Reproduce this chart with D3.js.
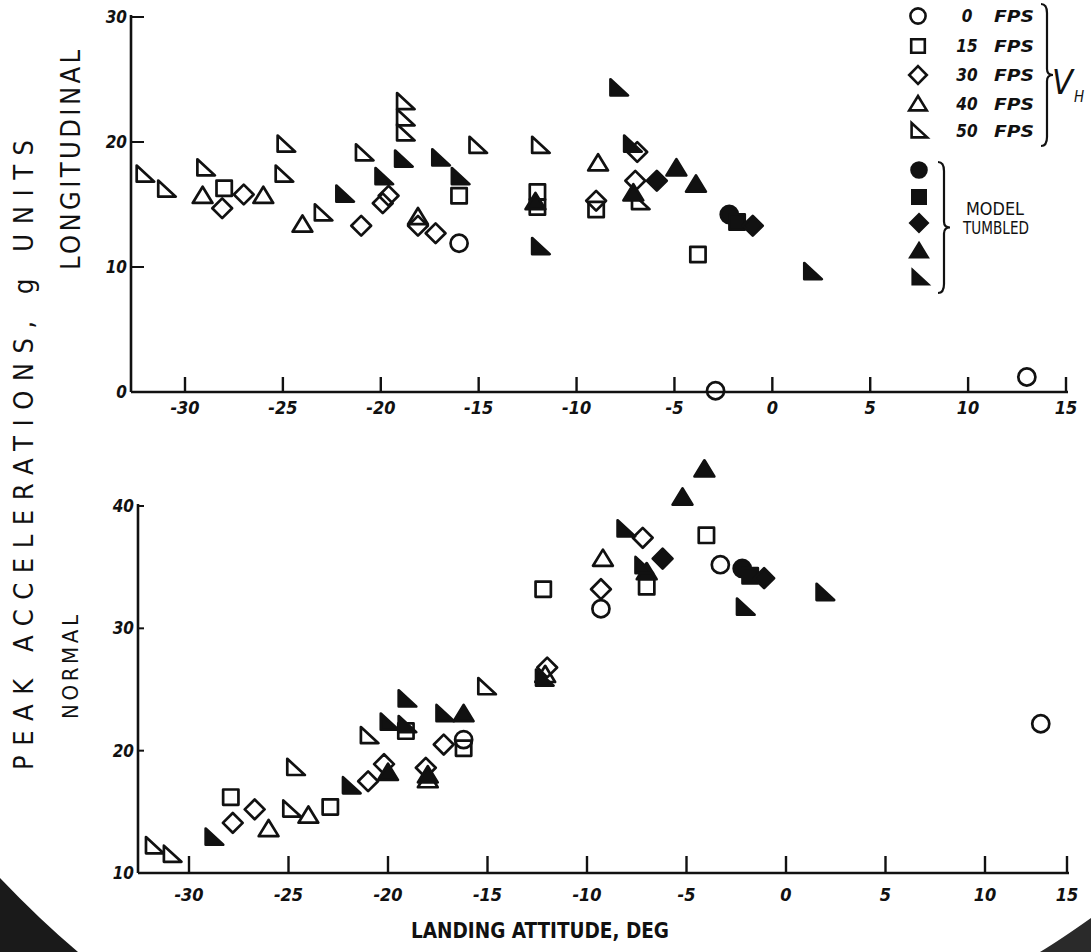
<!DOCTYPE html>
<html>
<head>
<meta charset="utf-8">
<script src="https://cdn.jsdelivr.net/npm/d3@7"></script>
<style>
  html, body { margin: 0; padding: 0; background: #fff; }
  svg { display: block; }
  text { font-family: "DejaVu Sans Condensed", "DejaVu Sans", sans-serif; fill: #111; }
</style>
</head>
<body>
<svg id="chart" width="1091" height="952"></svg>
<script>
// ---------------- DATA ----------------
// x ticks (landing attitude, deg)
const xTickValues = [-30, -25, -20, -15, -10, -5, 0, 5, 10, 15];
const yTicksLong = [0, 10, 20, 30];
const yTicksNormal = [10, 20, 30, 40];

// legend
const speedLabels = ["0", "15", "30", "40", "50"];
const symbolKinds = ["circle", "square", "diamond", "triangle", "rtriangle"];

// ---- Longitudinal peak acceleration [attitude, g] ----
const long0fps  = [[-16.0, 11.9], [-2.9, 0.1], [13.0, 1.2]];
const long15fps = [[-28.0, 16.3], [-16.0, 15.7], [-12.0, 16.0], [-12.0, 14.8], [-9.0, 14.6], [-3.8, 11.0]];
const long30fps = [[-28.1, 14.7], [-27.0, 15.8], [-21.0, 13.3], [-19.9, 15.1], [-19.6, 15.7], [-18.1, 13.3],
                   [-17.2, 12.7], [-9.0, 15.3], [-7.0, 16.9], [-6.9, 19.2]];
const long40fps = [[-29.1, 15.7], [-26.0, 15.7], [-24.0, 13.4], [-18.1, 14.0], [-8.9, 18.3]];
const long50fps = [[-32.1, 17.4], [-31.0, 16.2], [-29.0, 17.9], [-24.9, 19.8], [-25.0, 17.4], [-23.0, 14.3],
                   [-20.9, 19.1], [-18.8, 23.2], [-18.8, 21.9], [-18.8, 20.7], [-15.1, 19.7], [-11.9, 19.7], [-6.8, 15.2]];
const longTumbled0  = [[-2.2, 14.2]];
const longTumbled15 = [[-1.8, 13.6]];
const longTumbled30 = [[-5.9, 16.9], [-1.0, 13.3]];
const longTumbled40 = [[-4.9, 17.9], [-3.9, 16.6], [-7.1, 15.9], [-12.1, 15.2]];
const longTumbled50 = [[-21.9, 15.8], [-19.9, 17.2], [-18.9, 18.6], [-17.0, 18.7], [-16.0, 17.2], [-11.9, 11.6],
                       [-7.9, 24.3], [-7.2, 19.8], [2.0, 9.6]];

// ---- Normal peak acceleration [attitude, g] ----
const norm0fps  = [[-3.3, 35.2], [13.4, 22.2], [-16.2, 20.9], [-9.3, 31.6]];
const norm15fps = [[-27.9, 16.2], [-22.9, 15.4], [-19.1, 21.6], [-16.2, 20.2], [-12.2, 33.2], [-4.0, 37.6], [-7.0, 33.4]];
const norm30fps = [[-27.8, 14.1], [-26.7, 15.2], [-21.0, 17.5], [-20.2, 18.9], [-18.1, 18.6], [-17.2, 20.5],
                   [-12.0, 26.8], [-7.2, 37.4], [-9.3, 33.2]];
const norm40fps = [[-26.0, 13.6], [-24.0, 14.7], [-18.0, 17.6], [-12.1, 26.2], [-9.2, 35.7]];
const norm50fps = [[-31.8, 12.2], [-30.9, 11.5], [-24.7, 18.6], [-24.9, 15.2], [-21.0, 21.2], [-15.1, 25.2]];
const normTumbled0  = [[-2.2, 34.9]];
const normTumbled15 = [[-1.8, 34.3]];
const normTumbled30 = [[-6.2, 35.7], [-1.1, 34.1]];
const normTumbled40 = [[-20.0, 18.2], [-16.2, 23.0], [-18.0, 18.0], [-5.2, 40.7], [-4.1, 43.0], [-7.0, 34.6]];
const normTumbled50 = [[-28.8, 12.9], [-21.9, 17.1], [-20.0, 22.3], [-19.1, 24.2], [-19.1, 22.1], [-17.2, 23.0],
                       [-12.2, 25.9], [-8.1, 38.1], [-7.2, 35.1], [-2.1, 31.7], [1.9, 32.9]];

// ---------------- DRAWING ----------------
const svg = d3.select("#chart");
const INK = "#111";

// symbol path generator (centered at 0,0)
function symbolPath(kind, s) {
  const h = s / 2;
  const p = d3.path();
  if (kind === "circle") {
    p.arc(0, 0, h * 0.95, 0, 2 * Math.PI);
  } else if (kind === "square") {
    p.rect(-h * 0.85, -h * 0.85, h * 1.7, h * 1.7);
  } else if (kind === "diamond") {
    p.moveTo(0, -h * 1.1); p.lineTo(h * 1.1, 0); p.lineTo(0, h * 1.1); p.lineTo(-h * 1.1, 0); p.closePath();
  } else if (kind === "triangle") {
    p.moveTo(0, -h); p.lineTo(h * 1.1, h * 0.8); p.lineTo(-h * 1.1, h * 0.8); p.closePath();
  } else { // right triangle, vertical left edge, point at lower right
    p.moveTo(-h * 0.8, -h); p.lineTo(h * 1.15, h * 0.8); p.lineTo(-h * 0.8, h * 0.8); p.closePath();
  }
  return p.toString();
}

function panel(cfg) {
  const g = svg.append("g");
  const x = cfg.x, y = cfg.y;
  const [x0, x1] = [cfg.axisLeft, cfg.axisRight];
  const yb = y(cfg.yDomain[0]), yt = y(cfg.yDomain[1]);

  g.append("line").attr("x1", x0).attr("x2", x1).attr("y1", yb).attr("y2", yb)
    .attr("stroke", INK).attr("stroke-width", 2.6);
  g.append("line").attr("x1", x0).attr("x2", x0).attr("y1", yb).attr("y2", yt - 2)
    .attr("stroke", INK).attr("stroke-width", 2.6);

  const xt = g.append("g").selectAll("g").data(xTickValues).join("g")
    .attr("transform", d => `translate(${x(d)},${yb})`);
  xt.append("line").attr("y1", 0).attr("y2", -cfg.xTickLen).attr("stroke", INK).attr("stroke-width", 2.4);
  xt.append("text").attr("y", cfg.xLabelDy).attr("text-anchor", "middle")
    .attr("font-size", 18).attr("font-weight", "bold").attr("font-style", "italic")
    .text(d => d === 0 ? "0" : (d < 0 ? "-" + Math.abs(d) : d));

  const yt2 = g.append("g").selectAll("g").data(cfg.yTicks).join("g")
    .attr("transform", d => `translate(${x0},${y(d)})`);
  yt2.filter(d => d !== cfg.yDomain[0]).append("line").attr("x1", 0).attr("x2", cfg.yTickLen)
    .attr("stroke", INK).attr("stroke-width", 2);
  yt2.append("text").attr("x", -4).attr("dy", "0.35em").attr("text-anchor", "end")
    .attr("font-size", 17).attr("font-weight", "bold").attr("font-style", "italic")
    .text(d => d);

  const groups = [
    { data: cfg.open[0], kind: "circle", filled: false },
    { data: cfg.open[1], kind: "square", filled: false },
    { data: cfg.open[2], kind: "diamond", filled: false },
    { data: cfg.open[3], kind: "triangle", filled: false },
    { data: cfg.open[4], kind: "rtriangle", filled: false },
    { data: cfg.filled[0], kind: "circle", filled: true },
    { data: cfg.filled[1], kind: "square", filled: true },
    { data: cfg.filled[2], kind: "diamond", filled: true },
    { data: cfg.filled[3], kind: "triangle", filled: true },
    { data: cfg.filled[4], kind: "rtriangle", filled: true }
  ];
  groups.forEach(grp => {
    g.append("g").selectAll("path").data(grp.data).join("path")
      .attr("transform", d => `translate(${x(d[0])},${y(d[1])})`)
      .attr("d", symbolPath(grp.kind, 18))
      .attr("fill", grp.filled ? INK : "none")
      .attr("stroke", INK)
      .attr("stroke-width", 2.7)
      .attr("stroke-linejoin", "round");
  });
}

// Top panel: longitudinal
const xTop = d3.scaleLinear().domain([-30, 15]).range([185, 1066]);
const yTop = d3.scaleLinear().domain([0, 30]).range([392, 17]);
panel({
  x: xTop, y: yTop, yDomain: [0, 30], yTicks: yTicksLong,
  axisLeft: 131, axisRight: 1068, xTickLen: 15, yTickLen: 13, xLabelDy: 22,
  open: [long0fps, long15fps, long30fps, long40fps, long50fps],
  filled: [longTumbled0, longTumbled15, longTumbled30, longTumbled40, longTumbled50]
});

// Bottom panel: normal
const xBot = d3.scaleLinear().domain([-30, 10, 15]).range([189, 985, 1067]);
const yBot = d3.scaleLinear().domain([10, 40]).range([873, 506]);
panel({
  x: xBot, y: yBot, yDomain: [10, 40], yTicks: yTicksNormal,
  axisLeft: 138, axisRight: 1069, xTickLen: 17, yTickLen: 6, xLabelDy: 28,
  open: [norm0fps, norm15fps, norm30fps, norm40fps, norm50fps],
  filled: [normTumbled0, normTumbled15, normTumbled30, normTumbled40, normTumbled50]
});

// Axis titles
svg.append("text").attr("transform", "translate(540,938)").attr("text-anchor", "middle")
  .attr("font-size", 21).attr("font-weight", "bold")
  .attr("textLength", 258).attr("lengthAdjust", "spacingAndGlyphs")
  .text("LANDING ATTITUDE, DEG");

svg.append("text").attr("transform", "translate(33,455) rotate(-90)").attr("text-anchor", "middle")
  .attr("font-size", 27).attr("fill", "#333")
  .attr("textLength", 630).attr("lengthAdjust", "spacing")
  .text("PEAK ACCELERATIONS,  g UNITS");

svg.append("text").attr("transform", "translate(80,160) rotate(-90)").attr("text-anchor", "middle")
  .attr("font-size", 27).attr("fill", "#333")
  .attr("textLength", 220).attr("lengthAdjust", "spacing")
  .text("LONGITUDINAL");

svg.append("text").attr("transform", "translate(78,667) rotate(-90)").attr("text-anchor", "middle")
  .attr("font-size", 22).attr("fill", "#555")
  .attr("textLength", 104).attr("lengthAdjust", "spacing")
  .text("NORMAL");

// Legend
const leg = svg.append("g");
const openRowsY = [16, 46, 75, 104, 131];
speedLabels.forEach((lab, i) => {
  const row = leg.append("g").attr("transform", `translate(0,${openRowsY[i]})`);
  row.append("path").attr("transform", "translate(918,0)").attr("d", symbolPath(symbolKinds[i], 16))
    .attr("fill", "none").attr("stroke", INK).attr("stroke-width", 2.6);
  row.append("text").attr("x", 967).attr("dy", "0.35em").attr("text-anchor", "middle")
    .attr("font-size", 17).attr("font-weight", "bold").attr("font-style", "italic").text(lab);
  row.append("text").attr("x", 994).attr("dy", "0.35em")
    .attr("font-size", 16).attr("font-weight", "bold").attr("font-style", "italic")
    .attr("textLength", 40).attr("lengthAdjust", "spacingAndGlyphs").text("FPS");
});
function braceRight(xp, y0, y1, w) {
  const m = (y0 + y1) / 2;
  return `M${xp},${y0} q${w},0 ${w},${w * 1.5} L${xp + w},${m - w} q0,${w} ${w},${w} q-${w},0 -${w},${w} L${xp + w},${y1 - w * 1.5} q0,${w * 1.5} -${w},${w * 1.5}`;
}
leg.append("path").attr("d", braceRight(1041, 4, 146, 6)).attr("fill", "none").attr("stroke", INK).attr("stroke-width", 2.2);
leg.append("text").attr("x", 1052).attr("y", 94).attr("font-size", 34).attr("font-style", "italic").text("V");
leg.append("text").attr("x", 1074).attr("y", 102).attr("font-size", 15).attr("font-style", "italic").text("H");

const filledRowsY = [170, 197, 223, 251, 278];
symbolKinds.forEach((k, i) => {
  leg.append("path").attr("transform", `translate(919,${filledRowsY[i]})`).attr("d", symbolPath(k, 16))
    .attr("fill", INK).attr("stroke", INK).attr("stroke-width", 2.4);
});
leg.append("path").attr("d", braceRight(938, 162, 293, 6)).attr("fill", "none").attr("stroke", INK).attr("stroke-width", 2.2);
leg.append("text").attr("x", 966).attr("y", 215).attr("font-size", 17)
  .attr("textLength", 58).attr("lengthAdjust", "spacingAndGlyphs").text("MODEL");
leg.append("text").attr("x", 963).attr("y", 234).attr("font-size", 17)
  .attr("textLength", 66).attr("lengthAdjust", "spacingAndGlyphs").text("TUMBLED");

// scan-edge shading in lower corners
svg.append("path").attr("d", "M0,878 Q40,920 78,952 L0,952 Z").attr("fill", "#1a1a1a");
svg.append("path").attr("d", "M1091,918 Q1060,940 1040,952 L1091,952 Z").attr("fill", "#2a2a2a");
</script>
</body>
</html>
